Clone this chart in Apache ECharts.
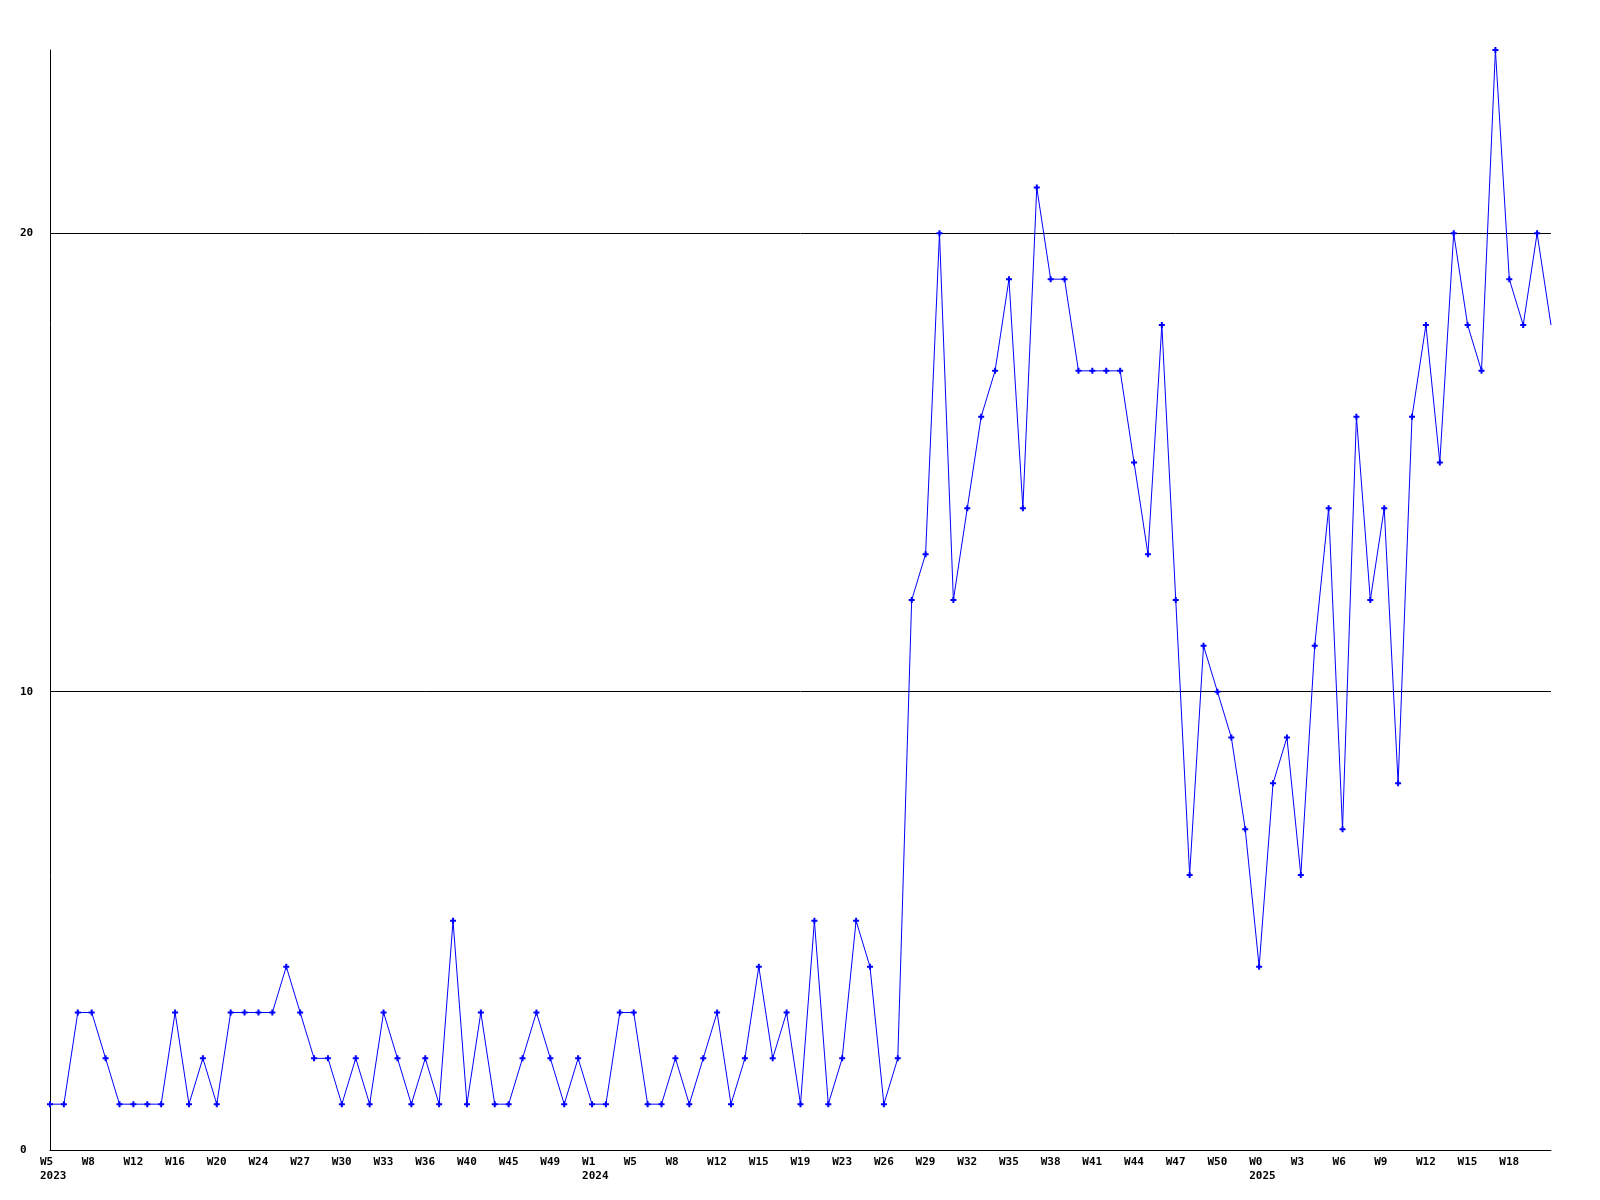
<!DOCTYPE html>
<html>
<head>
<meta charset="utf-8">
<script src="https://cdn.jsdelivr.net/npm/echarts@6/dist/echarts.min.js"></script>
<style>
html,body{margin:0;padding:0;background:#fff;}
#chart{width:1600px;height:1200px;}
</style>
</head>
<body>
<div id="chart"></div>
<script>
// Weekly counts (109 periods)
const values = [
  1,1,3,3,2,1,1,1,1,3,1,2,1,3,3,3,3,4,3,2,
  2,1,2,1,3,2,1,2,1,5,1,3,1,1,2,3,2,1,2,1,
  1,3,3,1,1,2,1,2,3,1,2,4,2,3,1,5,1,2,5,4,
  1,2,12,13,20,12,14,16,17,19,14,21,19,19,17,17,17,17,15,13,
  18,12,6,11,10,9,7,4,8,9,6,11,14,7,16,12,14,8,16,18,
  15,20,18,17,24,19,18,20,18
];
// Tick labels, one every 3 periods
const weekLabels = [
  'W5','W8','W12','W16','W20','W24','W27','W30','W33','W36','W40','W45','W49',
  'W1','W5','W8','W12','W15','W19','W23','W26','W29','W32','W35','W38','W41','W44','W47','W50',
  'W0','W3','W6','W9','W12','W15','W18'
];
// Year shown under the given tick label index
const yearLabels = {0:'2023', 13:'2024', 29:'2025'};
const labelStep = 3;
const yTicks = [0, 10, 20];
const yMax = 24;

const categories = values.map((v, i) => {
  if (i % labelStep !== 0) return '';
  const k = i / labelStep;
  if (k >= weekLabels.length) return '';
  return yearLabels[k] ? weekLabels[k] + '\n' + yearLabels[k] : weekLabels[k];
});

const plusPath = 'path://M2,0h2v2h2v2h-2v2h-2v-2h-2v-2h2z';

const chart = echarts.init(document.getElementById('chart'), null, {renderer: 'canvas'});
const font = '"DejaVu Sans Mono", monospace';
chart.setOption({
  animation: false,
  backgroundColor: '#ffffff',
  grid: {left: 50, right: 49, top: 50, bottom: 50, containLabel: false},
  xAxis: {
    type: 'category',
    data: categories,
    boundaryGap: false,
    axisLine: {show: true, lineStyle: {color: '#000', width: 1}},
    axisTick: {show: false},
    splitLine: {show: false},
    axisLabel: {
      interval: 0,
      align: 'left',
      padding: [0, 0, 0, -10],
      margin: 5,
      color: '#000',
      fontFamily: font,
      fontWeight: 'bold',
      fontSize: 11,
      lineHeight: 14
    }
  },
  yAxis: {
    type: 'value',
    min: 0,
    max: yMax,
    interval: 10,
    axisLine: {show: true, lineStyle: {color: '#000', width: 1}},
    axisTick: {show: false},
    splitLine: {show: true, showMinLine: false, showMaxLine: false, lineStyle: {color: '#000', width: 1}},
    axisLabel: {
      showMaxLabel: false,
      align: 'left',
      margin: 30,
      color: '#000',
      fontFamily: font,
      fontWeight: 'bold',
      fontSize: 11,
      formatter: v => (yTicks.indexOf(v) >= 0 ? String(v) : '')
    }
  },
  series: [{
    type: 'line',
    data: values,
    showAllSymbol: true,
    symbol: (v, p) => (p.dataIndex === values.length - 1 ? 'none' : plusPath),
    symbolSize: 6,
    lineStyle: {color: '#0000ff', width: 1},
    itemStyle: {color: '#0000ff'},
    emphasis: {disabled: true}
  }]
});
</script>
</body>
</html>
